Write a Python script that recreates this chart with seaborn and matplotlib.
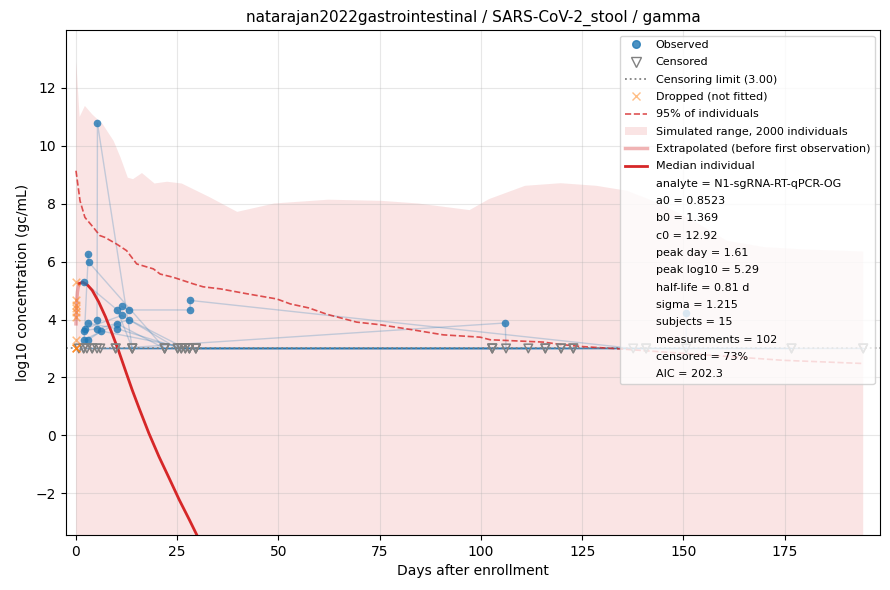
import numpy as np
import pandas as pd
import matplotlib
matplotlib.use("Agg")
import matplotlib.pyplot as plt
from matplotlib.lines import Line2D
from matplotlib.patches import Patch
import seaborn as sns

# --- per-subject measurements (day, log10 value, censored flag) ---
subject = ([1] * 6 + [2] * 7 + [3] * 7 + [4] * 5 + [5] * 4 + [6] * 4 + [7] * 5
           + [8] * 4 + [9] * 4 + [10] * 4 + [11] * 4 + [12] * 4 + [13] * 4
           + [14] * 4 + [15] * 4)
day = [5.2, 5.3, 13.9, 26, 102.8, 140.8,
       1.9, 3.05, 3.1, 21.9, 28, 115.9, 194.4,
       1.9, 10.2, 13.9, 29.6, 119.8, 150.7, 150.7,
       11.3, 13.2, 28.2, 28.2, 137.6,
       9.8, 106.0, 106.2, 122.8,
       2.2, 11.3, 25.1, 102.8,
       2.0, 5.27, 13.2, 27, 111.7,
       1.98, 10.2, 21.9, 176.7,
       3.05, 6.3, 28, 115.9,
       3.05, 10.2, 26, 119.8,
       0.7, 4.0, 29.6, 176.7,
       1.9, 6.0, 25.1, 140.8,
       2.7, 9.8, 27, 194.4,
       4.0, 13.9, 28, 122.8,
       5.2, 21.9, 29.6, 102.8]
value = [3.99, 10.78, 3.0, 3.0, 3.0, 3.0,
         3.0, 6.26, 5.99, 3.0, 3.0, 3.0, 3.0,
         5.3, 4.33, 3.0, 3.0, 3.0, 3.0, 4.24,
         4.45, 4.33, 4.33, 4.66, 3.0,
         3.0, 3.88, 3.0, 3.0,
         3.68, 4.14, 3.0, 3.0,
         3.62, 3.68, 3.99, 3.0, 3.0,
         3.30, 3.85, 3.0, 3.0,
         3.30, 3.6, 3.0, 3.0,
         3.87, 3.68, 3.0, 3.0,
         3.0, 3.0, 3.0, 3.0,
         3.0, 3.0, 3.0, 3.0,
         3.0, 3.0, 3.0, 3.0,
         3.0, 3.0, 3.0, 3.0,
         3.0, 3.0, 3.0, 3.0]
censored = [0, 0, 1, 1, 1, 1,
            1, 0, 0, 1, 1, 1, 1,
            0, 0, 1, 1, 1, 1, 0,
            0, 0, 0, 0, 1,
            1, 0, 1, 1,
            0, 0, 1, 1,
            0, 0, 0, 1, 1,
            0, 0, 1, 1,
            0, 0, 1, 1,
            0, 0, 1, 1,
            1, 1, 1, 1,
            1, 1, 1, 1,
            1, 1, 1, 1,
            1, 1, 1, 1,
            1, 1, 1, 1]

# dropped points (not fitted), all at day 0
dropped_day = [0, 0, 0, 0, 0, 0, 0, 0, 0, 0]
dropped_val = [5.29, 4.66, 4.5, 4.4, 4.25, 4.1, 3.30, 3.0, 3.0, 3.0]

censor_limit = 3.0

# simulated population envelope
sim_days = [0, 0.2, 0.9, 2.2, 4.0, 6.6, 9.3, 11.0, 12.8, 14.1, 16.3, 19.4, 22.5,
            26.1, 33.1, 39.8, 49, 62.3, 75.5, 84.4, 97.2, 102, 110.9, 119.7,
            128.5, 136, 144.3, 152.5, 160.7, 170, 180, 194.4]
sim_high = [12.9, 12.6, 11.0, 11.38, 11.09, 10.75, 10.17, 9.6, 8.9, 8.85, 9.06,
            8.7, 8.76, 8.7, 8.22, 7.72, 8.01, 8.14, 8.10, 8.01, 7.78, 8.16, 8.62,
            8.71, 8.62, 8.45, 8.0, 7.41, 6.72, 6.5, 6.42, 6.35]
sim_low = [-9.0] * len(sim_days)

# 95% of individuals
q95_days = [0, 1.0, 2.2, 4.3, 5.9, 7.1, 10.0, 12.5, 15, 19.1, 20.8, 24, 29, 31.4,
            35.6, 42.2, 49.6, 52.9, 57.5, 62.0, 69.3, 75.1, 83.3, 90.7, 99.8,
            102.3, 115.4, 119.6, 124.5, 133.6, 150, 174.7, 194.4]
q95_val = [9.14, 8.1, 7.53, 7.18, 6.9, 6.84, 6.61, 6.38, 5.92, 5.75, 5.57, 5.46,
           5.23, 5.13, 5.06, 4.89, 4.71, 4.54, 4.40, 4.18, 3.91, 3.82, 3.64, 3.47,
           3.39, 3.3, 3.22, 3.14, 3.07, 2.99, 2.83, 2.59, 2.48]

# median individual
extrap_days = [0, 0.05, 0.15, 0.35, 0.6, 0.8]
extrap_val = [3.85, 4.2, 4.6, 4.95, 5.15, 5.24]
median_days = [0.8, 1.61, 2.8, 4.0, 5.6, 7.3, 8.9, 10.6, 12.3, 13.9, 15.6, 18.0,
               20.5, 23.0, 25.5, 28.0, 30.0, 32.0]
median_val = [5.24, 5.29, 5.2, 5.01, 4.61, 4.09, 3.52, 2.89, 2.2, 1.56, 0.93,
              0.07, -0.74, -1.48, -2.23, -2.92, -3.49, -4.0]

fit_stats = ["analyte = N1-sgRNA-RT-qPCR-OG", "a0 = 0.8523", "b0 = 1.369",
             "c0 = 12.92", "peak day = 1.61", "peak log10 = 5.29",
             "half-life = 0.81 d", "sigma = 1.215", "subjects = 15",
             "measurements = 102", "censored = 73%", "AIC = 202.3"]

df = pd.DataFrame({"subject": subject, "day": day, "value": value,
                   "censored": censored})
obs = df[df["censored"] == 0]
cen = df[df["censored"] == 1]

fig, ax = plt.subplots(figsize=(8.9, 5.9), dpi=100)

ax.fill_between(sim_days, sim_low, sim_high, color="tab:red", alpha=0.12, lw=0)

sns.lineplot(data=df, x="day", y="value", units="subject", estimator=None,
             color="tab:blue", alpha=0.25, lw=1, ax=ax)

ax.axhline(censor_limit, color="gray", ls=":", lw=1.3, alpha=0.9)

sns.scatterplot(x=obs["day"], y=obs["value"], color="tab:blue", s=30,
                alpha=0.8, linewidth=0, zorder=3, ax=ax)
ax.scatter(cen["day"], cen["value"], marker="v", facecolor="none",
           edgecolor="gray", s=38, linewidth=1.1, zorder=3)
ax.scatter(dropped_day, dropped_val, marker="x", color="tab:orange",
           alpha=0.5, s=30, linewidth=1.1, zorder=3)

ax.plot(q95_days, q95_val, ls="--", color="tab:red", alpha=0.8, lw=1.2)
ax.plot(extrap_days, extrap_val, color="tab:red", alpha=0.35, lw=2.5)
ax.plot(median_days, median_val, color="tab:red", lw=2)

ax.set_xlim(-2.5, 198.6)
ax.set_ylim(-3.45, 14)
ax.set_xticks([0, 25, 50, 75, 100, 125, 150, 175])
ax.set_yticks([-2, 0, 2, 4, 6, 8, 10, 12])
ax.grid(True, alpha=0.3)
ax.set_xlabel("Days after enrollment")
ax.set_ylabel("log10 concentration (gc/mL)")
ax.set_title("natarajan2022gastrointestinal / SARS-CoV-2_stool / gamma",
             fontsize=11)

handles = [
    Line2D([], [], marker="o", ls="none", color="tab:blue", alpha=0.8, markersize=5.5),
    Line2D([], [], marker="v", ls="none", markerfacecolor="none",
           markeredgecolor="gray", markersize=6.5),
    Line2D([], [], color="gray", ls=":", lw=1.3),
    Line2D([], [], marker="x", ls="none", color="tab:orange", alpha=0.5, markersize=5.5),
    Line2D([], [], color="tab:red", ls="--", alpha=0.8, lw=1.2),
    Patch(facecolor="tab:red", alpha=0.12, lw=0),
    Line2D([], [], color="tab:red", alpha=0.35, lw=2.5),
    Line2D([], [], color="tab:red", lw=2),
]
labels = ["Observed", "Censored", "Censoring limit (3.00)", "Dropped (not fitted)",
          "95% of individuals", "Simulated range, 2000 individuals",
          "Extrapolated (before first observation)", "Median individual"]
for s in fit_stats:
    handles.append(Line2D([], [], ls="none"))
    labels.append(s)
ax.legend(handles, labels, loc="upper right", fontsize=8, labelspacing=0.66)

plt.subplots_adjust(left=0.074, right=0.989, top=0.949, bottom=0.093)
plt.savefig("out.png", dpi=100)
